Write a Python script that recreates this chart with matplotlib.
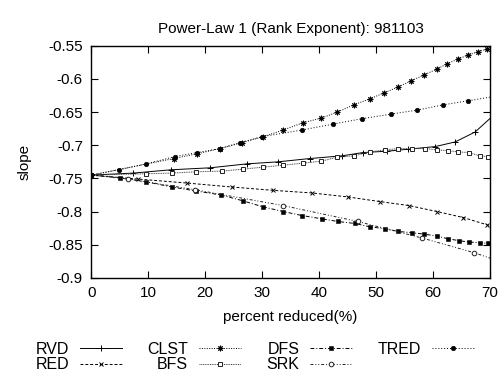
import matplotlib
matplotlib.use("Agg")
import matplotlib.pyplot as plt

plt.rcParams['font.family'] = ['Liberation Sans', 'DejaVu Sans']

# percent reduced (x) and slope (y) for each method
rvd_x = [0, 7.4, 14.0, 20.9, 27.4, 32.8, 38.4, 44.0, 47.7, 51.9, 55.6, 60.4, 63.9, 67.4, 71.0]
rvd_y = [-0.745, -0.742, -0.737, -0.734, -0.728, -0.725, -0.720, -0.716, -0.711, -0.709,
         -0.706, -0.702, -0.695, -0.680, -0.652]

red_x = [0, 8.2, 16.8, 24.7, 31.9, 38.8, 45.1, 50.7, 55.8, 60.7, 65.3, 69.5, 73.5]
red_y = [-0.745, -0.751, -0.757, -0.763, -0.768, -0.772, -0.778, -0.785, -0.791, -0.800,
         -0.809, -0.820, -0.829]

clst_x = [0, 14.5, 18.5, 22.6, 26.5, 30.2, 33.7, 37.2, 40.4, 43.2, 46.1, 48.9, 51.4, 53.9,
          56.1, 58.4, 60.7, 62.5, 64.4, 66.1, 67.9, 69.5]
clst_y = [-0.745, -0.720, -0.713, -0.705, -0.696, -0.687, -0.677, -0.666, -0.659, -0.650,
          -0.639, -0.630, -0.621, -0.612, -0.603, -0.594, -0.585, -0.577, -0.570, -0.564,
          -0.559, -0.555]

bfs_x = [0, 9.6, 14.2, 18.4, 23.0, 26.7, 30.2, 33.7, 37.2, 40.4, 43.2, 46.1, 48.9, 51.6,
         53.9, 56.3, 58.6, 60.7, 62.6, 64.4, 66.3, 68.2, 69.6]
bfs_y = [-0.745, -0.743, -0.742, -0.740, -0.739, -0.736, -0.733, -0.730, -0.727, -0.724,
         -0.718, -0.716, -0.710, -0.707, -0.705, -0.705, -0.705, -0.707, -0.708, -0.710,
         -0.711, -0.716, -0.717]

dfs_x = [0, 5.1, 9.6, 14.2, 18.4, 22.8, 26.7, 30.2, 33.7, 37.0, 40.5, 43.3, 46.3, 48.9,
         51.6, 53.9, 56.3, 58.4, 60.7, 62.6, 64.6, 66.3, 68.2, 69.6]
dfs_y = [-0.745, -0.749, -0.755, -0.763, -0.769, -0.775, -0.784, -0.793, -0.800, -0.806,
         -0.811, -0.815, -0.818, -0.823, -0.826, -0.830, -0.832, -0.834, -0.837, -0.841,
         -0.844, -0.846, -0.847, -0.848]

srk_x = [0, 6.5, 18.2, 33.7, 46.8, 58.1, 67.2, 74.0]
srk_y = [-0.745, -0.751, -0.767, -0.791, -0.815, -0.840, -0.862, -0.882]

tred_x = [0, 4.8, 9.7, 14.7, 18.6, 22.6, 26.1, 30.0, 37.0, 42.5, 47.5, 52.6, 57.2, 61.8,
          66.1, 71.0]
tred_y = [-0.745, -0.737, -0.728, -0.717, -0.711, -0.705, -0.696, -0.687, -0.677, -0.668,
          -0.660, -0.653, -0.647, -0.639, -0.633, -0.626]

x_ticks = [0, 10, 20, 30, 40, 50, 60, 70]
y_ticks = [-0.9, -0.85, -0.8, -0.75, -0.7, -0.65, -0.6, -0.55]

fig = plt.figure(figsize=(5.04, 3.79), dpi=100)
ax = fig.add_axes([0.181, 0.267, 0.791, 0.612])

lw = 0.7
ms = 3.3
ax.plot(rvd_x, rvd_y, color='black', lw=lw, ls='-', marker='+', ms=4.5, mew=0.7, label='RVD')
ax.plot(red_x, red_y, color='black', lw=lw, ls=(0, (3, 2)), marker='x', ms=3.5, mew=0.7, label='RED')
ax.plot(clst_x, clst_y, color='black', lw=lw, ls=(0, (1, 1.5)), marker=(8, 2, 0), ms=4, mew=0.7, label='CLST')
ax.plot(bfs_x, bfs_y, color='#444444', lw=lw, ls=(0, (1, 0.8)), marker='s', ms=ms, mew=0.7,
        mfc='white', mec='#222222', label='BFS')
ax.plot(dfs_x, dfs_y, color='black', lw=lw, ls=(0, (4, 2, 1, 2)), marker='s', ms=ms, mew=0.4, label='DFS')
ax.plot(srk_x, srk_y, color='#222222', lw=lw, ls=(0, (3, 2, 1, 2, 1, 2)), marker='o', ms=ms, mew=0.7,
        mfc='white', mec='#222222', label='SRK')
ax.plot(tred_x, tred_y, color='black', lw=lw, ls=(0, (1, 2)), marker='o', ms=ms, mew=0.4, label='TRED')

ax.set_xlim(0, 70)
ax.set_ylim(-0.9, -0.55)
ax.set_xticks(x_ticks)
ax.set_yticks(y_ticks)
ax.set_yticklabels([f'{v:g}' for v in y_ticks])
ax.tick_params(direction='in', top=True, right=True, length=5, width=0.8, labelsize=11, pad=6)
for s in ax.spines.values():
    s.set_linewidth(1.0)

ax.set_title('Power-Law 1 (Rank Exponent): 981103', fontsize=11, pad=9)
ax.set_xlabel('percent reduced(%)', fontsize=11, labelpad=7)
ax.set_ylabel('slope', fontsize=11, labelpad=12)

fig.legend(loc='lower center', bbox_to_anchor=(0.505, -0.012), ncol=4, frameon=False,
           markerfirst=False, fontsize=11.5, handlelength=2.6, handletextpad=0.7,
           columnspacing=1.6, labelspacing=0.05, borderpad=0.2)

fig.savefig('out.png', dpi=100)
